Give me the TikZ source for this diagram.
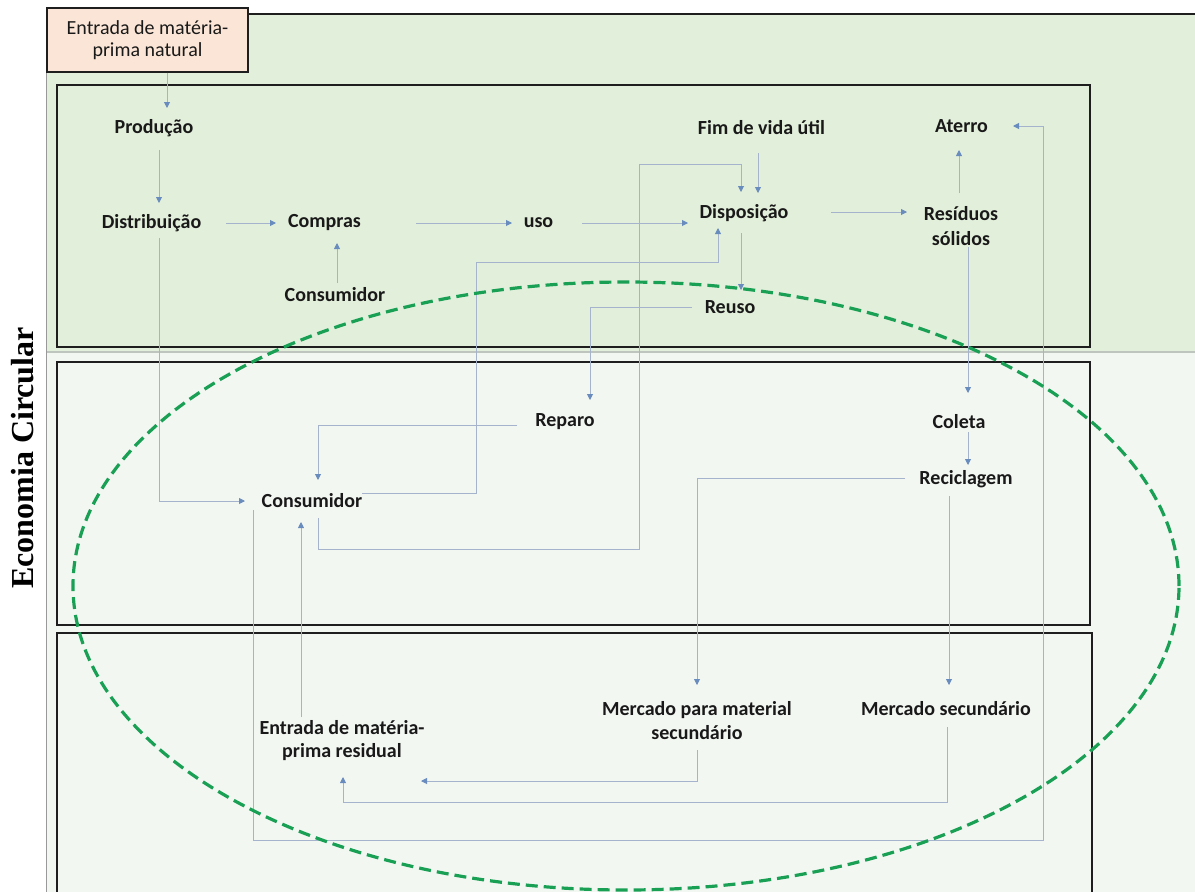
\documentclass[tikz,border=0pt]{standalone}
\usepackage{fontspec}
\setmainfont{Carlito}
\newfontfamily\titlefont{Liberation Serif}
\usetikzlibrary{arrows.meta,calc}
\definecolor{topgreen}{RGB}{226,239,218}
\definecolor{lowbg}{RGB}{243,247,242}
\definecolor{pinkfill}{RGB}{251,229,214}
\definecolor{linec}{RGB}{165,180,204}
\definecolor{tipc}{RGB}{105,140,190}
\definecolor{ellc}{RGB}{25,160,85}
\definecolor{boxc}{RGB}{30,30,30}
\definecolor{sepc}{RGB}{190,196,190}
\begin{document}
\begin{tikzpicture}[x=1pt,y=-1pt,
 lbl/.style={font=\fontsize{20}{24}\selectfont\bfseries, inner sep=0pt, align=center, text=black!90},
 arr/.style={draw=linec, line width=0.9pt, -{Triangle[length=6pt,width=6pt,fill=tipc,color=tipc]}},
 panel/.style={draw=boxc, line width=1.8pt},
]
\useasboundingbox (0,0) rectangle (1195,892);
\begin{scope}
\clip (0,0) rectangle (1195,892);
\fill[lowbg] (46,352) rectangle (1195,892);
\fill[topgreen] (46,14) rectangle (1195,352);
\draw[sepc, line width=2pt] (46,352) -- (1195,352);
\draw[black!40, line width=0.8pt] (46,14) -- (46,892);
\draw[boxc, line width=1.8pt] (46,14) -- (1195,14);
\draw[panel] (57,85) rectangle (1090,347);
\draw[panel] (57,362) rectangle (1090,625);
\draw[panel] (57,633) rectangle (1092,905);
\end{scope}

% title
\node[rotate=90, font=\titlefont\fontsize{32}{32}\selectfont\bfseries, inner sep=0pt] (title) at (23,458) {Economia Circular};

% nodes
\node[lbl, font=\fontsize{20}{22}\selectfont, draw=boxc, fill=pinkfill, line width=1.2pt, minimum width=201pt, minimum height=64pt] (pink) at (147.5,40) {Entrada de matéria-\\prima natural};
\node[lbl] (prod) at (154,128) {Produção};
\node[lbl] (dist) at (151.5,223) {Distribuição};
\node[lbl] (compras) at (324.5,223) {Compras};
\node[lbl] (uso) at (538.5,223) {uso};
\node[lbl] (cons1) at (335,295) {Consumidor};
\node[lbl] (fim) at (761.5,128) {Fim de vida útil};
\node[lbl] (aterro) at (961.5,126) {Aterro};
\node[lbl] (disp) at (744,213) {Disposição};
\node[lbl, font=\fontsize{20}{25}\selectfont\bfseries] (resid) at (961,226) {Resíduos\\sólidos};
\node[lbl] (reuso) at (730,307) {Reuso};
\node[lbl] (reparo) at (565,422) {Reparo};
\node[lbl] (cons2) at (312,501) {Consumidor};
\node[lbl] (coleta) at (959,422) {Coleta};
\node[lbl] (recic) at (966,479) {Reciclagem};
\node[lbl] (mpara) at (697,721) {Mercado para material\\secundário};
\node[lbl] (msec) at (946,709) {Mercado secundário};
\node[lbl, font=\fontsize{20}{23}\selectfont\bfseries] (resid2) at (342,741) {Entrada de matéria-\\prima residual};

% bend points
\coordinate (b1) at (476,262);
\coordinate (b2) at (639,549);
\coordinate (b3) at (741,164);
\coordinate (b4) at (1043,840);
\coordinate (b5) at (343,802);

% connectors
\draw[arr] ([xshift=19.5pt]pink.south) -- ([xshift=13pt,yshift=20pt]prod.center);
\draw[arr] ([xshift=5pt,yshift=-22pt]prod.center) -- ([xshift=7.5pt,yshift=20pt]dist.center);
\draw[arr] ([xshift=74.5pt]dist.center) -- ([xshift=-48.5pt]compras.center);
\draw[arr] ([xshift=91.5pt]compras.center) -- ([xshift=-26.5pt]uso.center);
\draw[arr] ([xshift=43.5pt]uso.center) -- ([xshift=-56pt,yshift=-10pt]disp.center);
\draw[arr] ([xshift=2pt,yshift=12pt]cons1.center) -- ([xshift=12.5pt,yshift=-20pt]compras.center);
\draw[arr] ([xshift=-3.5pt,yshift=-25pt]fim.center) -- ([xshift=14pt,yshift=20pt]disp.center);
\draw[arr] ([xshift=87pt,yshift=1pt]disp.center) -- ([xshift=-54pt,yshift=14pt]resid.center);
\draw[arr] ([xshift=-2pt,yshift=33pt]resid.center) -- ([xshift=-2.5pt,yshift=-24pt]aterro.center);
\draw[arr] ([xshift=-3pt,yshift=-20pt]disp.center) -- ([xshift=11pt,yshift=17pt]reuso.center);
\draw[arr] ([xshift=-38pt]reuso.center) -| ([xshift=25pt,yshift=22pt]reparo.center);
\draw[arr] ([xshift=-48pt,yshift=-3pt]reparo.center) -| ([xshift=6pt,yshift=21pt]cons2.center);
\draw[arr] ([xshift=7.5pt,yshift=-15pt]dist.center) |- ([xshift=-67pt]cons2.center);
\draw[arr] ([xshift=50pt,yshift=8pt]cons2.center) -| (b1) -| ([xshift=-26pt,yshift=-15pt]disp.center);
\draw[arr] ([xshift=6pt,yshift=-17pt]cons2.center) |- (b2) |- (b3) -- ([xshift=-3pt,yshift=21pt]disp.center);
\draw[arr] ([xshift=-59pt,yshift=-9pt]cons2.center) |- (b4) |- ([xshift=51.5pt]aterro.center);
\draw[arr] ([xshift=-41pt,yshift=24pt]resid2.center) -- ([xshift=-11pt,yshift=-21pt]cons2.center);
\draw[arr] ([xshift=7pt,yshift=-21pt]resid.center) -- ([xshift=9pt,yshift=29pt]coleta.center);
\draw[arr] ([xshift=9pt,yshift=-10pt]coleta.center) -- ([xshift=2pt,yshift=14pt]recic.center);
\draw[arr] ([xshift=-61pt,yshift=1pt]recic.center) -| ([yshift=36pt]mpara.center);
\draw[arr] ([xshift=-17pt,yshift=-17pt]recic.center) -- ([xshift=3pt,yshift=24pt]msec.center);
\draw[arr] ([yshift=-29pt]mpara.center) |- ([xshift=79pt,yshift=-40pt]resid2.center);
\draw[arr] ([xshift=1pt,yshift=-18pt]msec.center) |- (b5) -- ([xshift=1pt,yshift=-36pt]resid2.center);

% circular economy ellipse
\draw[ellc, line width=3.2pt, dash pattern=on 12pt off 6pt] (626,586) ellipse [x radius=553pt, y radius=304pt];
\end{tikzpicture}
\end{document}
